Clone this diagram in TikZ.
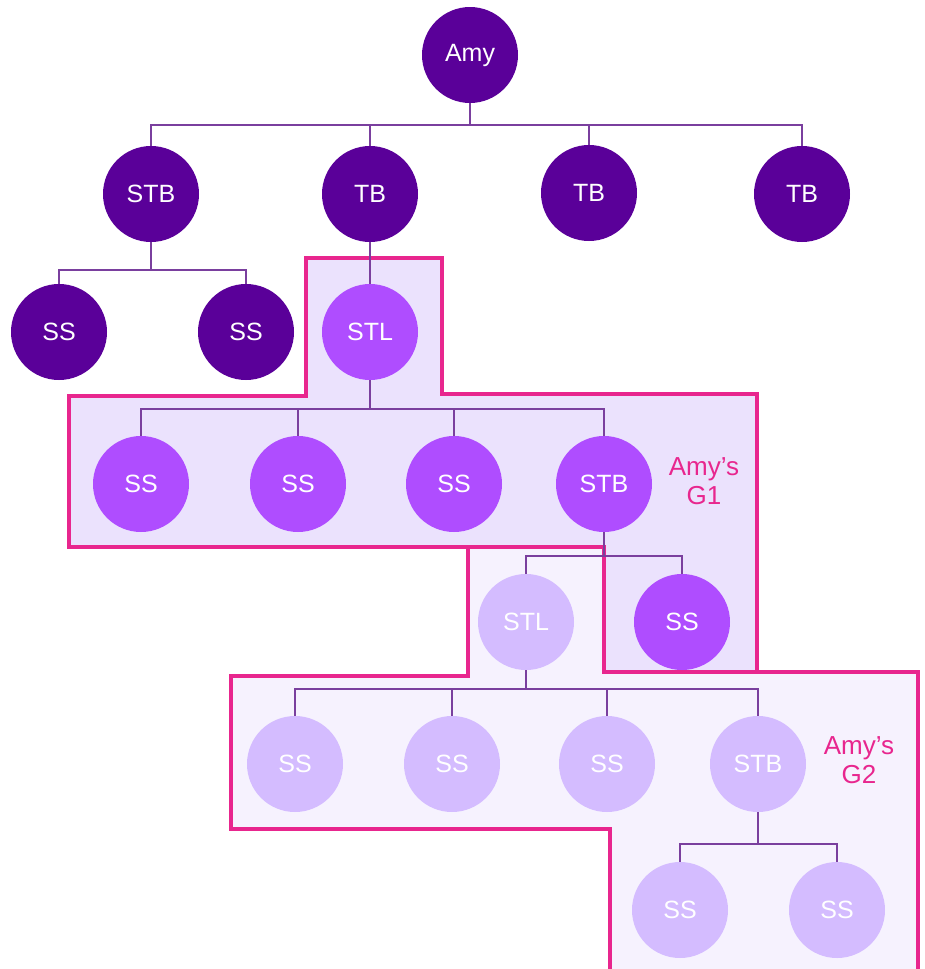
\documentclass[tikz,border=0pt]{standalone}
\usepackage{fontspec}
\setmainfont{Liberation Sans}
\definecolor{dark}{HTML}{5A0099}
\definecolor{mid}{HTML}{AF4DFF}
\definecolor{light}{HTML}{D4BCFF}
\definecolor{pinkb}{HTML}{E8268E}
\definecolor{linec}{HTML}{7A3F9E}
\definecolor{gonefill}{HTML}{EBE2FD}
\definecolor{gtwofill}{HTML}{F6F2FE}
\tikzset{
  pers/.style={circle, minimum size=96pt, inner sep=0pt, text=white, font=\fontsize{25}{29}\selectfont},
  pdark/.style={pers, fill=dark},
  pmid/.style={pers, fill=mid},
  plight/.style={pers, fill=light},
  conn/.style={draw=linec, line width=1.4pt},
  region/.style={draw=pinkb, line width=3.2pt, line join=miter},
  glabel/.style={text=pinkb, align=center, font=\fontsize{26}{29}\selectfont}
}
\begin{document}
\begin{tikzpicture}[x=1pt, y=-1pt]
\useasboundingbox (0,0) rectangle (925,969);
% regions
\fill[gtwofill] (468,547) -- (604,547) -- (604,672) -- (918,672) -- (918,972) -- (610,972) -- (610,829) -- (231,829) -- (231,676) -- (468,676) -- cycle;
\fill[gonefill] (306,258) -- (442,258) -- (442,394) -- (757,394) -- (757,672) -- (604,672) -- (604,547) -- (69,547) -- (69,396) -- (306,396) -- cycle;
\draw[region] (610,975) -- (610,829) -- (231,829) -- (231,676) -- (468,676) -- (468,547) -- (604,547) -- (604,672) -- (918,672) -- (918,975);
\draw[region] (306,258) -- (442,258) -- (442,394) -- (757,394) -- (757,672) -- (604,672) -- (604,547) -- (69,547) -- (69,396) -- (306,396) -- cycle;
% nodes
\node[pdark] (amy) at (470,55) {Amy};
\node[pdark] (stba) at (151,194) {STB};
\node[pdark] (tba) at (370,194) {TB};
\node[pdark] (tbb) at (589,193) {TB};
\node[pdark] (tbc) at (802,194) {TB};
\node[pdark] (ssa) at (59,332) {SS};
\node[pdark] (ssb) at (246,332) {SS};
\node[pmid] (stla) at (370,332) {STL};
\node[pmid] (ssc) at (141,484) {SS};
\node[pmid] (ssd) at (298,484) {SS};
\node[pmid] (sse) at (454,484) {SS};
\node[pmid] (stbb) at (604,484) {STB};
\node[plight] (stlb) at (526,622) {STL};
\node[pmid] (ssf) at (682,622) {SS};
\node[plight] (ssg) at (295,764) {SS};
\node[plight] (ssh) at (452,764) {SS};
\node[plight] (ssi) at (607,764) {SS};
\node[plight] (stbc) at (758,764) {STB};
\node[plight] (ssj) at (680,910) {SS};
\node[plight] (ssk) at (837,910) {SS};
% bus coordinates
\coordinate (busa) at (0,125);
\coordinate (busb) at (0,270);
\coordinate (busc) at (0,409);
\coordinate (busd) at (0,556);
\coordinate (buse) at (0,689);
\coordinate (busf) at (0,844);
% connectors
\foreach \c in {stba,tba,tbb,tbc} \draw[conn] (amy.south) -- (amy.south |- busa) -| (\c.north);
\foreach \c in {ssa,ssb} \draw[conn] (stba.south) -- (stba.south |- busb) -| (\c.north);
\draw[conn] (tba.south) -- (stla.north);
\foreach \c in {ssc,ssd,sse,stbb} \draw[conn] (stla.south) -- (stla.south |- busc) -| (\c.north);
\foreach \c in {stlb,ssf} \draw[conn] (stbb.south) -- (stbb.south |- busd) -| (\c.north);
\foreach \c in {ssg,ssh,ssi,stbc} \draw[conn] (stlb.south) -- (stlb.south |- buse) -| (\c.north);
\foreach \c in {ssj,ssk} \draw[conn] (stbc.south) -- (stbc.south |- busf) -| (\c.north);
% labels
\node[glabel] (gone) at (704,481) {Amy’s\\G1};
\node[glabel] (gtwo) at (859,760) {Amy’s\\G2};
\end{tikzpicture}
\end{document}
